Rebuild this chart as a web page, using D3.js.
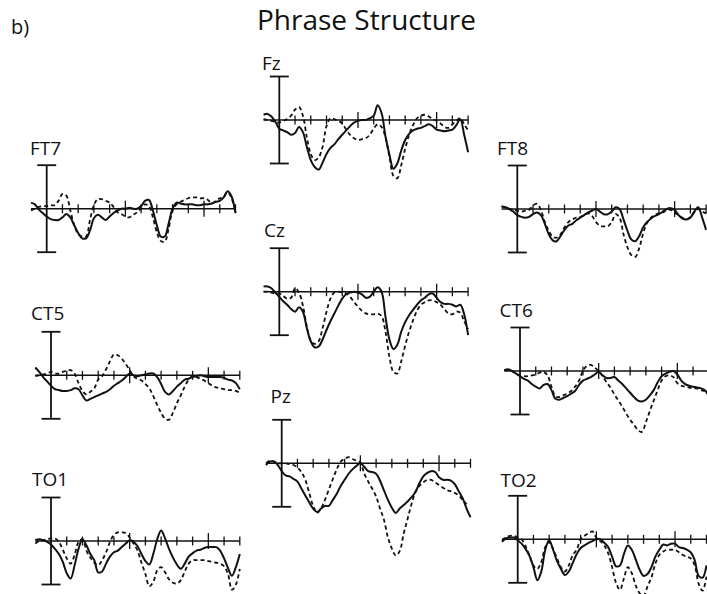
<!DOCTYPE html>
<html>
<head>
<meta charset="utf-8">
<script src="https://cdn.jsdelivr.net/npm/d3@7"></script>
<style>
  body { margin: 0; background: #fff; }
  svg { display: block; }
  text { font-family: "Open Sans", "Noto Sans", sans-serif; fill: #111; }
</style>
</head>
<body>
<svg width="707" height="594"></svg>
<script>
// sample times (ms), -100 .. 1200 every 25 ms
const times = d3.range(-100, 1201, 25);
const tickTimes = [100, 200, 300, 400, 500, 600, 700, 800, 900, 1000, 1100, 1200];
const majorTicks = [500, 1000];

// amplitudes (uV, cap = +-5), solid and dashed condition per electrode
const ft7Solid = [0.7, 0.5, -0.1, -0.5, -0.9, -1.2, -1.3, -1.3, -1.0, -0.6, -1.0, -1.9, -2.8, -3.4, -3.4, -2.5, -1.1, -0.7, -1.0, -1.3, -0.9, -0.5, -0.2, 0.0, 0.0, 0.1, 0.0, 0.0, 0.3, 0.9, 1.0, -0.2, -1.9, -3.2, -3.2, -1.7, 0.0, 0.7, 0.6, 0.5, 0.5, 0.5, 0.4, 0.4, 0.5, 0.5, 0.6, 0.8, 0.9, 1.3, 2.0, 1.4, -0.5];
const ft7Dashed = [-0.2, 0.0, 0.2, 0.3, 0.3, 0.4, 0.4, 0.9, 1.7, 1.5, -0.2, -1.9, -2.9, -3.2, -3.2, -1.3, 0.4, 1.1, 1.1, 0.9, 0.7, 0.2, -0.4, -0.6, -0.9, -1.0, -0.7, -0.4, 0.0, 0.5, 0.3, -1.0, -2.7, -3.7, -3.8, -2.3, -0.2, 0.5, 0.8, 1.0, 1.2, 1.3, 1.3, 1.2, 1.2, 1.0, 0.6, 0.9, 1.2, 1.4, 1.9, 1.2, -0.4];
const fzSolid = [0.6, 0.7, 0.4, -0.2, -1.0, -1.2, -1.4, -1.7, -1.5, -0.8, -1.4, -3.1, -4.6, -5.4, -5.7, -4.9, -3.9, -3.2, -2.8, -2.2, -1.7, -1.2, -0.7, -0.3, -0.1, 0.0, 0.0, 0.2, 0.5, 1.7, 0.8, -1.9, -4.0, -5.6, -5.0, -3.5, -2.3, -1.6, -1.2, -1.0, -0.9, -0.7, -0.5, -0.7, -1.1, -1.2, -1.3, -1.2, -1.1, -0.6, 0.1, -1.7, -3.7];
const fzDashed = [0.1, 0.0, -0.1, -0.2, -0.3, -0.1, 0.1, 0.5, 1.2, 1.5, 0.5, -2.0, -3.9, -4.6, -4.3, -3.1, -0.7, 0.2, 0.1, -0.1, -0.4, -1.1, -1.7, -2.1, -2.3, -2.2, -2.1, -1.7, -1.0, -0.5, -0.8, -2.0, -4.2, -6.4, -6.7, -5.2, -3.3, -1.7, -0.6, 0.2, 0.5, 0.6, 0.4, 0.1, -0.1, -0.4, -0.8, -0.9, -0.5, -0.1, 0.2, -0.5, -1.2];
const ft8Solid = [0.3, 0.2, 0.0, -0.3, -0.7, -0.9, -1.0, -0.9, -0.6, -0.4, -0.7, -1.7, -2.9, -3.6, -3.7, -3.1, -2.4, -1.9, -1.7, -1.3, -1.0, -0.7, -0.4, -0.2, 0.0, -0.3, -0.6, -0.6, -0.3, 0.2, 0.0, -1.2, -2.5, -3.5, -3.7, -3.1, -2.1, -1.5, -1.1, -0.8, -0.6, -0.3, 0.0, 0.1, -0.1, -0.7, -1.1, -1.2, -1.0, -0.3, 0.2, -1.0, -2.4];
const ft8Dashed = [0.3, 0.2, 0.0, -0.1, -0.2, -0.3, -0.2, -0.1, 0.4, 0.6, -0.1, -1.5, -2.5, -3.2, -3.3, -2.9, -2.1, -1.5, -1.2, -1.0, -0.9, -0.7, -0.5, -0.8, -1.5, -1.9, -2.0, -2.0, -1.5, -0.6, -1.0, -2.9, -4.4, -5.3, -5.5, -4.5, -2.8, -1.6, -1.0, -0.7, -0.5, -0.4, -0.1, -0.1, -0.4, -0.7, -1.0, -1.2, -0.9, -0.4, 0.0, -0.3, -0.5];
const ct5Solid = [0.9, 0.4, -0.2, -0.7, -1.2, -1.6, -1.7, -1.8, -1.8, -1.7, -1.5, -1.6, -2.3, -2.9, -2.7, -2.5, -2.3, -2.1, -1.9, -1.6, -1.2, -0.9, -0.6, -0.2, 0.2, 0.0, -0.1, 0.0, 0.1, 0.2, 0.2, -0.2, -1.0, -1.9, -2.2, -1.8, -1.3, -0.9, -0.5, -0.4, -0.2, -0.1, 0.0, -0.1, -0.2, -0.2, -0.2, -0.2, -0.3, -0.5, -0.6, -0.9, -1.6];
const ct5Dashed = [-0.1, 0.0, 0.1, 0.2, 0.4, 0.2, 0.2, 0.4, 0.5, 0.6, 0.2, -0.9, -1.8, -2.2, -1.9, -1.5, -0.5, -0.1, 0.7, 1.6, 2.4, 2.3, 1.9, 1.3, 0.6, -0.1, -0.4, -0.6, -1.0, -1.5, -2.4, -3.4, -4.3, -5.0, -5.1, -4.3, -3.2, -2.3, -1.3, -0.5, -0.1, -0.2, -0.4, -0.6, -0.9, -1.2, -1.4, -1.5, -1.6, -1.7, -1.7, -1.8, -2.0];
const czSolid = [0.6, 0.6, 0.4, -0.1, -0.6, -1.1, -1.5, -2.0, -2.3, -1.8, -2.3, -4.2, -5.7, -6.4, -6.3, -5.5, -4.4, -3.4, -2.5, -1.6, -0.8, -0.3, -0.1, 0.0, -0.1, -0.3, -0.7, -0.6, 0.0, 0.5, 0.0, -2.9, -5.5, -6.6, -6.1, -4.6, -3.5, -2.7, -2.1, -1.5, -1.0, -0.7, -0.3, -0.2, -0.7, -1.2, -1.4, -1.4, -1.5, -1.7, -1.5, -2.6, -5.0];
const czDashed = [0.0, 0.0, -0.1, -0.2, -0.2, -0.5, -0.8, -0.7, 0.4, -0.1, -1.6, -4.0, -5.6, -6.0, -5.7, -4.2, -2.3, -0.8, -0.1, 0.0, -0.1, -0.2, -0.6, -1.2, -1.7, -2.2, -2.5, -2.6, -2.6, -2.5, -2.8, -4.6, -7.5, -9.2, -9.4, -8.0, -6.2, -4.6, -3.3, -2.2, -1.5, -1.2, -1.0, -1.0, -1.2, -1.5, -2.0, -2.5, -2.6, -2.3, -2.4, -3.4, -4.3];
const ct6Solid = [0.1, 0.2, 0.0, -0.3, -0.6, -0.9, -1.1, -1.5, -1.8, -2.0, -1.6, -1.5, -2.2, -3.2, -3.3, -3.1, -2.9, -2.6, -2.3, -1.6, -1.1, -0.9, -0.7, -0.4, -0.1, -0.5, -0.8, -0.8, -0.7, -1.1, -1.5, -2.0, -2.5, -3.0, -3.4, -3.5, -3.3, -2.8, -2.2, -1.3, -0.6, -0.3, -0.1, 0.0, -0.4, -1.1, -1.5, -1.7, -1.8, -1.9, -2.0, -2.2, -2.9];
const ct6Dashed = [0.1, 0.1, 0.0, -0.3, -0.5, -0.6, -0.6, -0.5, -0.4, -0.2, -0.1, -0.5, -1.8, -2.9, -3.0, -2.8, -2.6, -2.3, -1.8, -1.1, 0.0, 0.6, 0.7, 0.4, 0.0, -0.6, -1.3, -1.9, -2.7, -3.4, -4.1, -4.9, -5.6, -6.2, -6.8, -7.0, -5.9, -4.6, -3.4, -2.2, -1.1, -0.6, -0.5, -0.7, -1.4, -1.7, -1.8, -1.9, -2.0, -2.0, -2.2, -2.3, -2.6];
const to1Solid = [0.1, 0.2, 0.1, -0.1, -0.4, -0.9, -1.5, -2.4, -3.7, -4.3, -2.8, -0.9, 0.2, -0.5, -1.5, -2.2, -3.6, -3.5, -2.6, -1.8, -1.3, -1.1, -0.7, -0.3, 0.1, -0.1, -0.6, -1.5, -2.3, -2.7, -1.5, 0.2, 1.2, 0.3, -0.9, -1.9, -2.7, -3.2, -2.6, -1.8, -1.4, -1.1, -1.0, -0.8, -0.7, -0.7, -0.7, -1.1, -2.0, -3.1, -4.0, -3.0, -1.5];
const to1Dashed = [-0.3, 0.0, 0.1, 0.2, 0.3, 0.3, -0.1, -1.0, -2.0, -2.6, -1.6, -0.1, 0.2, -1.1, -1.9, -2.5, -2.8, -2.2, -1.3, -0.1, 0.7, 1.0, 1.0, 0.9, 0.4, -0.3, -1.1, -2.5, -3.8, -5.2, -4.7, -3.4, -3.0, -3.6, -4.4, -4.8, -4.9, -4.5, -3.5, -2.6, -2.2, -2.2, -2.2, -2.2, -2.3, -2.4, -2.5, -2.6, -2.9, -3.8, -5.6, -5.0, -3.2];
const pzSolid = [-0.2, 0.2, 0.2, -0.2, -0.9, -1.4, -1.5, -1.8, -2.1, -2.9, -3.7, -4.5, -5.2, -5.6, -5.2, -4.9, -4.9, -4.2, -3.5, -2.6, -1.9, -1.2, -0.7, -0.3, 0.0, -0.4, -0.9, -1.0, -1.2, -2.0, -3.1, -4.2, -5.1, -5.7, -5.2, -4.8, -4.4, -3.9, -3.3, -2.3, -1.5, -1.1, -0.9, -1.0, -1.6, -1.9, -1.9, -2.0, -2.4, -3.2, -4.0, -5.2, -6.2];
const pzDashed = [0.0, 0.3, 0.2, 0.0, 0.0, 0.0, -0.1, -0.2, -0.5, -1.0, -1.9, -3.4, -4.9, -5.7, -5.2, -4.2, -3.0, -1.8, -0.7, 0.2, 0.5, 0.7, 0.5, 0.3, 0.1, -1.2, -2.1, -2.9, -3.8, -5.2, -6.5, -8.5, -9.8, -10.6, -10.1, -8.1, -6.4, -4.7, -3.3, -2.6, -2.2, -1.9, -1.9, -2.2, -2.5, -2.8, -3.1, -3.2, -3.4, -3.7, -4.2, -4.7, null];
const to2Solid = [-0.3, 0.1, 0.2, 0.2, -0.1, -0.5, -1.1, -1.9, -3.2, -4.7, -3.7, -1.2, -0.1, -1.2, -2.5, -3.4, -4.1, -3.7, -2.7, -1.7, -1.0, -0.7, -0.4, -0.2, 0.0, 0.0, -0.4, -0.9, -2.0, -3.1, -3.0, -1.7, -0.7, -1.2, -2.3, -3.5, -4.2, -4.0, -3.2, -2.0, -1.2, -0.6, -0.7, -0.5, -0.5, -0.9, -1.0, -1.2, -1.5, -2.4, -4.2, -4.4, -3.0];
const to2Dashed = [-0.1, 0.2, 0.4, 0.4, 0.2, 0.0, -0.8, -1.9, -3.0, -3.4, -2.6, -0.9, -0.3, -1.1, -2.2, -3.2, -3.7, -3.0, -1.8, -1.2, 0.0, 0.4, 0.7, 0.9, 0.2, -0.2, -0.7, -1.6, -3.2, -5.0, -5.8, -4.5, -3.2, -3.9, -5.3, -6.2, -6.5, -5.4, -4.4, -2.8, -1.8, -1.4, -1.2, -1.2, -1.2, -1.5, -1.8, -2.0, -2.2, -3.0, -5.1, -5.9, -4.3];

// where each electrode sits on the page (origin = time 0 / 0 uV)
const panels = [
  {name: "FT7", solid: ft7Solid, dashed: ft7Dashed, ox: 46.7, zy: 208.7, lx: 30, ly: 155},
  {name: "Fz",  solid: fzSolid,  dashed: fzDashed,  ox: 279.3, zy: 120, lx: 262, ly: 70},
  {name: "FT8", solid: ft8Solid, dashed: ft8Dashed, ox: 517.3, zy: 209, lx: 497, ly: 155},
  {name: "CT5", solid: ct5Solid, dashed: ct5Dashed, ox: 51, zy: 375.3, lx: 31, ly: 320},
  {name: "Cz",  solid: czSolid,  dashed: czDashed,  ox: 279.3, zy: 291.7, lx: 264, ly: 236.7},
  {name: "CT6", solid: ct6Solid, dashed: ct6Dashed, ox: 520, zy: 371, lx: 499.5, ly: 317},
  {name: "TO1", solid: to1Solid, dashed: to1Dashed, ox: 51, zy: 541, lx: 32, ly: 486},
  {name: "Pz",  solid: pzSolid,  dashed: pzDashed,  ox: 281.7, zy: 463.3, lx: 270.5, ly: 403},
  {name: "TO2", solid: to2Solid, dashed: to2Dashed, ox: 517.7, zy: 539.3, lx: 500.5, ly: 487}
];

const svg = d3.select("svg");

svg.append("text")
  .attr("x", 11).attr("y", 34)
  .style("font-size", "20px")
  .text("b)");

svg.append("text")
  .attr("x", 257).attr("y", 30)
  .style("font-size", "28px")
  .text("Phrase Structure");

//Shared scales, relative to each panel origin
const x = d3.scaleLinear().domain([-100, 1200]).range([-15.73, 188.8]);
const y = d3.scaleLinear().domain([-5, 5]).range([43.5, -43.5]);

const line = d3.line()
  .defined(d => d[1] != null)
  .x(d => x(d[0]))
  .y(d => y(d[1]))
  .curve(d3.curveCatmullRom.alpha(0.5));

panels.forEach(p => {
  const g = svg.append("g").attr("transform", `translate(${p.ox},${p.zy})`);

  svg.append("text")
    .attr("x", p.lx).attr("y", p.ly)
    .style("font-size", "19px")
    .text(p.name);

  //time axis
  g.append("line")
    .attr("x1", x(-100)).attr("x2", x(1200))
    .attr("y1", 0).attr("y2", 0)
    .attr("stroke", "#111").attr("stroke-width", 1.4);

  g.selectAll("line.tick")
    .data(tickTimes)
    .enter()
      .append("line")
      .classed("tick", true)
      .attr("x1", d => x(d)).attr("x2", d => x(d))
      .attr("y1", d => majorTicks.includes(d) ? -8 : -4.5)
      .attr("y2", d => majorTicks.includes(d) ? 8 : 4.5)
      .attr("stroke", "#111").attr("stroke-width", 1.3);

  //amplitude bar with caps
  g.append("line")
    .attr("x1", x(0)).attr("x2", x(0))
    .attr("y1", y(5)).attr("y2", y(-5))
    .attr("stroke", "#111").attr("stroke-width", 1.8);
  g.selectAll("line.cap")
    .data([5, -5])
    .enter()
      .append("line")
      .classed("cap", true)
      .attr("x1", x(0) - 9.5).attr("x2", x(0) + 9.5)
      .attr("y1", d => y(d)).attr("y2", d => y(d))
      .attr("stroke", "#111").attr("stroke-width", 1.8);

  //waveforms
  g.append("path")
    .attr("d", line(times.map((t, i) => [t, p.dashed[i]])))
    .attr("fill", "none")
    .attr("stroke", "#111")
    .attr("stroke-width", 1.8)
    .attr("stroke-dasharray", "4,3");

  g.append("path")
    .attr("d", line(times.map((t, i) => [t, p.solid[i]])))
    .attr("fill", "none")
    .attr("stroke", "#111")
    .attr("stroke-width", 2);
});
</script>
</body>
</html>
